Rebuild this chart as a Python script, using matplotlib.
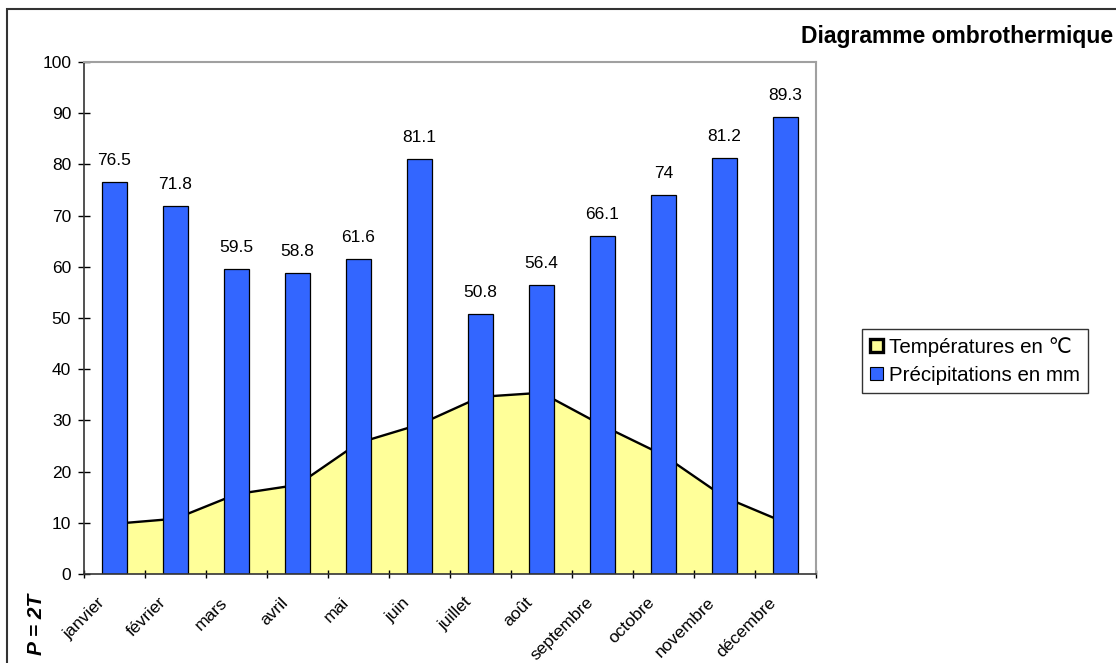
import numpy as np
import matplotlib
matplotlib.use('Agg')
import matplotlib.pyplot as plt
import matplotlib.transforms as mtransforms
from matplotlib.patches import Patch, Rectangle

plt.rcParams['font.family'] = ['Liberation Sans', 'DejaVu Sans']

mois = ['janvier', 'février', 'mars', 'avril', 'mai', 'juin', 'juillet',
        'août', 'septembre', 'octobre', 'novembre', 'décembre']
precipitations = [76.5, 71.8, 59.5, 58.8, 61.6, 81.1, 50.8, 56.4, 66.1, 74, 81.2, 89.3]
temperatures = [4.9, 5.4, 7.8, 8.7, 12.8, 14.6, 17.3, 17.7, 14.5, 11.6, 7.5, 5.0]

BLEU = '#3366ff'
JAUNE = '#ffff99'

fig = plt.figure(figsize=(11.16, 6.63), dpi=100)
ax = fig.add_axes([84 / 1116, 1 - 574 / 663, 732 / 1116, 512 / 663])

x = np.arange(len(mois))
p2t = 2 * np.array(temperatures)

# courbe des températures (P = 2T) en aire, derrière les barres
ax.fill_between(x, 0, p2t, facecolor=JAUNE, edgecolor='none', zorder=1)
ax.plot(x, p2t, color='black', lw=1.7, zorder=1.5)
ax.vlines([x[0], x[-1]], 0, [p2t[0], p2t[-1]], color='black', lw=0.8, zorder=1.5)

bars = ax.bar(x, precipitations, width=0.4, color=BLEU, edgecolor='black',
              linewidth=0.9, zorder=2)
for xi, v in zip(x, precipitations):
    ax.annotate(f'{v:g}', (xi, v), xytext=(0, 10), textcoords='offset points',
                ha='center', va='bottom', fontsize=12.5)

ax.set_xlim(-0.5, len(mois) - 0.5)
ax.set_ylim(0, 100)
ax.set_yticks(np.arange(0, 101, 10))
ax.tick_params(axis='y', direction='inout', length=8.5, width=1, labelsize=12.5, pad=5)

ax.set_xticks(x)
ax.set_xticklabels(mois, rotation=45, ha='right', va='top', rotation_mode='anchor',
                   fontsize=12.5)
ax.tick_params(axis='x', which='major', length=0, pad=12)
decalage = mtransforms.ScaledTranslation(-0.17, -0.04, fig.dpi_scale_trans)
for lab in ax.get_xticklabels():
    lab.set_transform(lab.get_transform() + decalage)
ax.set_xticks(np.arange(-0.5, len(mois), 1), minor=True)
ax.tick_params(axis='x', which='minor', direction='inout', length=6, width=1)

for s in ['left', 'bottom']:
    ax.spines[s].set_color('#333333')
    ax.spines[s].set_linewidth(1.2)
for s in ['top', 'right']:
    ax.spines[s].set_color('#a0a0a0')
    ax.spines[s].set_linewidth(1.5)
ax.spines['bottom'].set_zorder(3)

# cadre extérieur du graphique
fig.patches.append(Rectangle((7 / 1116, -0.1), 1.2, 1 - 9 / 663 + 0.1,
                             transform=fig.transFigure, fill=False,
                             edgecolor='#333333', linewidth=1.5))

fig.text(801 / 1116, 1 - 37 / 663, 'Diagramme ombrothermique', fontsize=16.5,
         fontweight='bold', ha='left', va='center')

fig.text(36 / 1116, 1 - 624 / 663, 'P = 2T', rotation=90, fontsize=15,
         fontweight='bold', fontstyle='italic', ha='center', va='center')

handles = [Patch(facecolor=JAUNE, edgecolor='black', linewidth=2.4),
           Patch(facecolor=BLEU, edgecolor='black', linewidth=0.8)]
leg = fig.legend(handles, ['Températures en ℃', 'Précipitations en mm'],
                 loc='center left', bbox_to_anchor=(862 / 1116, 1 - 361 / 663),
                 fontsize=14.8, frameon=True, fancybox=False, handlelength=0.6,
                 handleheight=0.6, handletextpad=0.3, borderpad=0.4,
                 labelspacing=0.45, borderaxespad=0)
leg.get_frame().set_edgecolor('black')
leg.get_frame().set_linewidth(1.0)

fig.savefig('out.png', dpi=100)
